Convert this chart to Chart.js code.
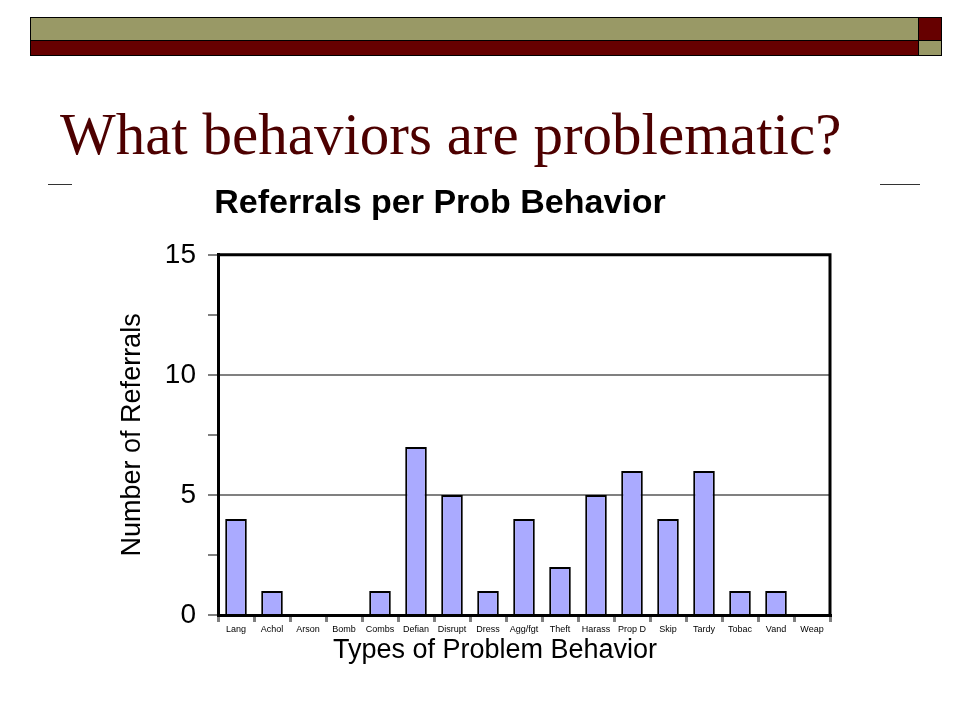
<!DOCTYPE html>
<html>
<head>
<meta charset="utf-8">
<script src="https://cdn.jsdelivr.net/npm/chart.js@4.4.0/dist/chart.umd.min.js"></script>
<style>
  body { margin: 0; background: #fff; }
  #page { position: relative; width: 960px; height: 720px; overflow: hidden; }
  .band { position: absolute; box-sizing: border-box; border: 1px solid #000; }
  #heading {
    position: absolute; left: 60px; top: 99px; margin: 0;
    font-family: "Liberation Serif", "Times New Roman", serif;
    font-weight: normal; font-size: 59px; line-height: 70px; color: #4d0000;
    white-space: nowrap;
  }
  .rule { position: absolute; top: 184px; height: 1px; background: #333; }
  #chartCanvas { position: absolute; left: 0; top: 0; }
</style>
</head>
<body>
<div id="page">
  <div class="band" style="left:30px;top:17px;width:889px;height:24px;background:#999966"></div>
  <div class="band" style="left:30px;top:40px;width:889px;height:16px;background:#660000"></div>
  <div class="band" style="left:918px;top:17px;width:24px;height:24px;background:#660000"></div>
  <div class="band" style="left:918px;top:40px;width:24px;height:16px;background:#999966"></div>
  <h1 id="heading">What behaviors are problematic?</h1>
  <div class="rule" style="left:48px;width:24px"></div>
  <div class="rule" style="left:880px;width:40px"></div>
  <canvas id="chartCanvas" width="960" height="720"></canvas>
</div>
<script>
// behaviour categories along the x axis
const behaviors = ['Lang', 'Achol', 'Arson', 'Bomb', 'Combs', 'Defian', 'Disrupt', 'Dress', 'Agg/fgt',
    'Theft', 'Harass', 'Prop D', 'Skip', 'Tardy', 'Tobac', 'Vand', 'Weap'];
// number of referrals per behaviour
const referrals = [4, 1, 0, 0, 1, 7, 5, 1, 4, 2, 5, 6, 4, 6, 1, 1, 0];
// labelled y ticks
const yTickLabels = [0, 5, 10, 15];

// top/right frame of the plot plus the x axis caption
const frameAndCaption = {
    id: 'frameAndCaption',
    afterDraw(chart) {
        const { ctx, chartArea: a } = chart;
        ctx.save();
        ctx.strokeStyle = '#000';
        ctx.lineWidth = 3;
        ctx.beginPath();
        ctx.moveTo(a.left, a.top);
        ctx.lineTo(a.right, a.top);
        ctx.lineTo(a.right, a.bottom);
        ctx.stroke();

        ctx.fillStyle = '#000';
        ctx.font = '27px "Liberation Sans", Arial, sans-serif';
        ctx.textAlign = 'center';
        ctx.textBaseline = 'middle';
        ctx.fillText('Types of Problem Behavior', a.left + (a.right - a.left) / 2 - 29, a.bottom + 36);
        ctx.restore();
    }
};

new Chart(document.getElementById('chartCanvas'), {
    type: 'bar',
    data: {
        labels: behaviors,
        datasets: [{
            label: 'Referrals',
            data: referrals,
            backgroundColor: '#aaaaff',
            borderColor: '#000',
            borderWidth: 2,
            barPercentage: 0.6,
            categoryPercentage: 1.0
        }]
    },
    options: {
        responsive: false,
        animation: false,
        devicePixelRatio: 1,
        layout: { padding: { left: 50, right: 130, top: 183, bottom: 55 } },
        plugins: {
            legend: { display: false },
            tooltip: { enabled: false },
            title: {
                display: true,
                text: 'Referrals per Prob Behavior',
                color: '#000',
                font: { family: '"Liberation Sans", Arial, sans-serif', size: 34, weight: 'bold', lineHeight: 1.2 },
                padding: { top: 0, bottom: 31 }
            }
        },
        scales: {
            x: {
                afterFit: s => { s.height = 50; },
                grid: {
                    drawOnChartArea: false,
                    tickLength: 7,
                    tickColor: '#808080',
                    lineWidth: 3,
                    offset: true
                },
                border: { color: '#000', width: 3 },
                ticks: {
                    color: '#000',
                    padding: 2,
                    maxRotation: 0,
                    autoSkip: false,
                    font: { family: '"Liberation Sans", Arial, sans-serif', size: 9 }
                }
            },
            y: {
                min: 0,
                max: 15,
                afterFit: s => { s.width = 168; },
                title: {
                    display: true,
                    text: 'Number of Referrals',
                    color: '#000',
                    font: { family: '"Liberation Sans", Arial, sans-serif', size: 27, lineHeight: 1.2 },
                    padding: { top: 66, bottom: 0 }
                },
                grid: {
                    color: c => (c.tick && c.tick.value % 5 === 0 && c.tick.value > 0 && c.tick.value < 15) ? '#808080' : 'rgba(0,0,0,0)',
                    tickColor: '#808080',
                    lineWidth: 2,
                    tickLength: 10
                },
                border: { color: '#000', width: 3 },
                ticks: {
                    stepSize: 2.5,
                    color: '#000',
                    padding: 12,
                    font: { family: '"Liberation Sans", Arial, sans-serif', size: 28 },
                    callback: v => yTickLabels.includes(v) ? v : ''
                }
            }
        }
    },
    plugins: [frameAndCaption]
});
</script>
</body>
</html>
